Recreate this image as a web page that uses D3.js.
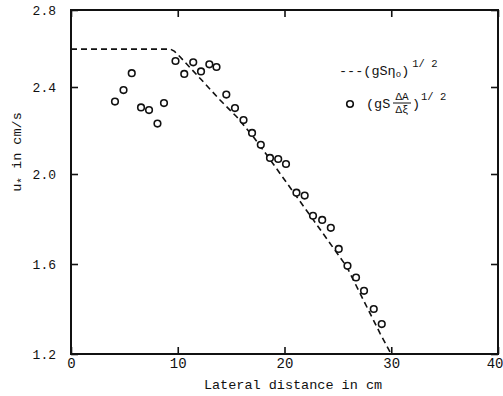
<!DOCTYPE html>
<html><head><meta charset="utf-8">
<script src="https://cdn.jsdelivr.net/npm/d3@7"></script>
<style>
body{margin:0;background:#fff}
svg{display:block}
text{font-family:"Liberation Mono","DejaVu Sans Mono",monospace;fill:#111}
</style>
</head><body>
<script>
// measured points (gS ΔA/Δξ)^1/2
const xDist = [4.12,4.92,5.69,6.56,7.31,8.10,8.71,9.79,10.61,11.45,12.18,12.96,13.63,14.55,15.36,16.16,16.96,17.78,18.64,19.41,20.14,21.12,21.89,22.67,23.53,24.34,25.08,25.90,26.70,27.45,28.36,29.11];
const uStar = [2.333,2.386,2.472,2.306,2.294,2.232,2.326,2.535,2.468,2.528,2.481,2.518,2.504,2.365,2.303,2.248,2.189,2.134,2.074,2.069,2.046,1.917,1.904,1.814,1.796,1.761,1.667,1.592,1.540,1.481,1.400,1.333];
// dashed curve (gSη0)^1/2
const lineX = [0,9.3,9.7,10.21,12.24,13.96,15.52,17.08,18.45,22.70,25.83,28.95,29.98];
const lineU = [2.597,2.597,2.585,2.557,2.436,2.340,2.263,2.171,2.080,1.796,1.588,1.292,1.2];
const xTicks = [0,10,20,30,40];
const xTickLabels = ["0","10","20","30","40"];
const yTicks = [1.2,1.6,2.0,2.4,2.8];
const yTickLabels = ["1.2","1.6","2.0","2.4","2.8"];

const W = 503, H = 396;
const svg = d3.select("body").append("svg").attr("width", W).attr("height", H);

const x = d3.scaleLinear().domain([0, 40]).range([71, 498]);
// scanned figure has slightly uneven tick spacing, reproduced piecewise
const y = d3.scaleLinear().domain(yTicks).range([354, 264, 174, 87, 10]);

// axes (inward ticks)
const gB = svg.append("g").attr("transform", `translate(0,${y(1.2)})`)
  .call(d3.axisBottom(x).tickValues(xTicks).tickFormat((d,i)=>xTickLabels[i]).tickSize(-7).tickPadding(4));
const gL = svg.append("g").attr("transform", `translate(${x(0)},0)`)
  .call(d3.axisLeft(y).tickValues(yTicks).tickFormat((d,i)=>yTickLabels[i]).tickSize(-7).tickPadding(15));
const gT = svg.append("g").attr("transform", `translate(0,${y(2.8)})`)
  .call(d3.axisTop(x).tickValues(xTicks).tickFormat("").tickSize(-7));
const gR = svg.append("g").attr("transform", `translate(${x(40)},0)`)
  .call(d3.axisRight(y).tickValues(yTicks).tickFormat("").tickSize(-7));
[gB,gL,gT,gR].forEach(g=>{
  g.select(".domain").remove();
  g.selectAll(".tick line").attr("stroke","#111").attr("stroke-width",1.6);
  g.selectAll("text").attr("font-size",13).attr("font-family",'"Liberation Mono",monospace').attr("fill","#111");
});
gB.selectAll("text").attr("font-size",14);
// keep the last x label inside the window
gB.selectAll(".tick").filter(d=>d===40).select("text").attr("text-anchor","end").attr("dx",5);

// frame
svg.append("rect").attr("x", x(0)).attr("y", y(2.8))
  .attr("width", x(40)-x(0)).attr("height", y(1.2)-y(2.8))
  .attr("fill","none").attr("stroke","#111").attr("stroke-width",2);

// dashed line
const lineData = lineX.map((d,i)=>[d, lineU[i]]);
svg.append("path").datum(lineData)
  .attr("d", d3.line().x(d=>x(d[0])).y(d=>y(d[1])))
  .attr("fill","none").attr("stroke","#111").attr("stroke-width",1.6)
  .attr("stroke-dasharray","6,4");

// points
svg.append("g").selectAll("circle").data(xDist.map((d,i)=>[d,uStar[i]])).join("circle")
  .attr("cx", d=>x(d[0])).attr("cy", d=>y(d[1])).attr("r", 3.3)
  .attr("fill","#fff").attr("stroke","#111").attr("stroke-width",1.6);

// axis titles
svg.append("text").attr("x", 293).attr("y", 389).attr("text-anchor","middle")
  .attr("font-size", 13.5).text("Lateral distance in cm");
const yt = svg.append("text").attr("transform","translate(21,152) rotate(-90)")
  .attr("text-anchor","middle").attr("font-size",13.5);
yt.append("tspan").text("u");
yt.append("tspan").attr("dy",4).attr("font-size",11).text("*");
yt.append("tspan").attr("dy",-4).text(" in cm/s");

// legend
const l1 = svg.append("text").attr("x", 339).attr("y", 75).attr("font-size", 13.5);
l1.append("tspan").text("---(gSη");
l1.append("tspan").attr("dy",2).attr("font-size",9).text("o");
l1.append("tspan").attr("dy",-2).text(")");
l1.append("tspan").attr("dy",-8).attr("dx",3).attr("font-size",10.5).text("1/ 2");

svg.append("circle").attr("cx", 350).attr("cy", 104).attr("r", 3.3)
  .attr("fill","#fff").attr("stroke","#111").attr("stroke-width",1.6);
svg.append("text").attr("x", 366).attr("y", 108).attr("font-size",13.5).text("(gS");
svg.append("text").attr("x", 402).attr("y", 100).attr("text-anchor","middle").attr("font-size",11).text("ΔA");
svg.append("line").attr("x1",393).attr("x2",411).attr("y1",103).attr("y2",103).attr("stroke","#111").attr("stroke-width",1);
svg.append("text").attr("x", 402).attr("y", 113).attr("text-anchor","middle").attr("font-size",11).text("Δξ");
svg.append("text").attr("x", 412).attr("y", 108).attr("font-size",13.5).text(")");
svg.append("text").attr("x", 421).attr("y", 100).attr("font-size",10.5).text("1/ 2");
</script>
</body></html>
